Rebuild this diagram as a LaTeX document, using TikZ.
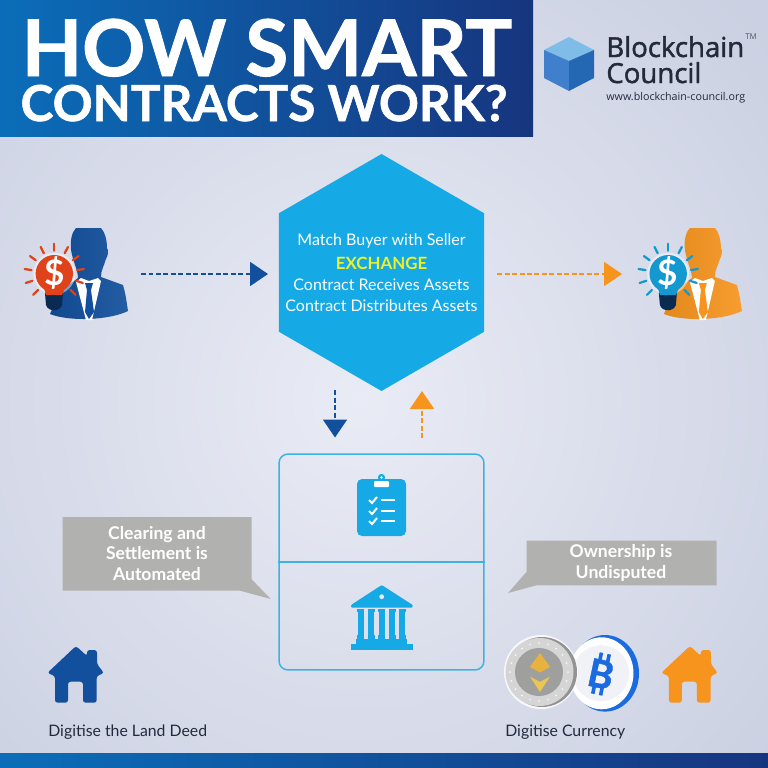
\documentclass[tikz,border=0pt]{standalone}
\usepackage{fontspec}
\setmainfont{Lato}
\newfontfamily\logofont[FakeBold=1.6]{Open Sans}
\newfontfamily\logosmall{Open Sans}
\newfontfamily\titlefont[BoldFeatures={FakeBold=1.2}]{Lato}
\usetikzlibrary{arrows.meta,shapes.geometric,calc}
\definecolor{bgin}{HTML}{E9ECF5}
\definecolor{bgout}{HTML}{CBD0E2}
\definecolor{hexblue}{HTML}{15A9E6}
\definecolor{boxblue}{HTML}{3DB2E2}
\definecolor{navy}{HTML}{124F9C}
\definecolor{headL}{HTML}{0B6DB9}
\definecolor{headR}{HTML}{17357F}
\definecolor{orangeC}{HTML}{F7941E}
\definecolor{redC}{HTML}{E0431A}
\definecolor{greyC}{HTML}{B1B2B0}
\definecolor{inkC}{HTML}{232A3C}
\definecolor{baseC}{HTML}{0B2A52}
\definecolor{yellowC}{HTML}{EEF02A}
\definecolor{cubeTop}{HTML}{7FBDE8}
\definecolor{cubeLeft}{HTML}{3F7FCC}
\definecolor{cubeRight}{HTML}{2468B4}
\definecolor{btcC}{HTML}{1A6AE0}
\definecolor{goldA}{HTML}{E7B23E}
\definecolor{goldB}{HTML}{EBC552}
\tikzset{
  x=0.02cm,y=-0.02cm,
  flow/.style={draw=#1,line width=0.04cm,dash pattern=on 0.1cm off 0.05cm,
    -{Triangle[length=0.36cm,width=0.48cm,fill=#1]}},
  hextext/.style={text=white,font=\fontsize{9.1}{12}\selectfont,anchor=center},
  callout/.style={fill=greyC,draw=none},
  calltext/.style={text=white,font=\bfseries\fontsize{10}{11.9}\selectfont,align=center},
  caption/.style={text=inkC,font=\fontsize{9}{11}\selectfont,anchor=base west,inner sep=0pt},
  person/.pic={
    \path[left color=#1!92!black,right color=#1!92!white]
      (76,228) -- (101,228) .. controls (105,232) and (107,240) .. (107,248)
      .. controls (109,250) and (108,256) .. (106,259)
      .. controls (104,266) and (101,270) .. (101,277)
      -- (123,285) .. controls (126,295) and (127,305) .. (128,311)
      .. controls (110,320) and (70,322) .. (50,314)
      -- (60,292) -- (78,278) .. controls (78,270) and (73,262) .. (71,250)
      .. controls (70,240) and (72,232) .. (76,228) -- cycle;
    \fill[white] (76,282) -- (81,278) -- (89,281) -- (98,278) -- (101,281) -- (92,320) -- (86,320) -- cycle;
    \fill[#1] (85,283) -- (93,283) -- (91,290) -- (94,312) -- (89,319) -- (85,312) -- (87,290) -- cycle;
  },
  bulb/.pic={
    \fill[white,opacity=.45] (54.3,273.7) circle[radius=21];
    \foreach \a in {90,117,144,171,198,225,63,36,9,-18,-45}{
      \draw[#1,line width=0.045cm,line cap=round] ($(54.3,273.7)+(\a:23 and -23)$) -- ($(54.3,273.7)+(\a:30 and -30)$);
    }
    \fill[baseC] (45,293) -- (63,293) -- (62,305) .. controls (60,312) and (48,312) .. (46,305) -- cycle;
    \fill[#1] (54.3,273.7) circle[radius=18.7];
    \fill[#1] (44,288) -- (65,288) -- (62,295) -- (46,295) -- cycle;
    \node[text=white,font=\bfseries\fontsize{20}{20}\selectfont,inner sep=0pt] at (54.3,272.5) {\$};
  },
  house/.pic={
    \fill[#1,rounded corners=1.5pt] (76,646) -- (87,656) -- (87,650) -- (97,650) -- (97,664) -- (104,673) -- (96.7,676) -- (96.7,702.7) -- (83,702.7) -- (83,681.7) -- (68,681.7) -- (68,702.7) -- (55,702.7) -- (55,676) -- (47.3,673) -- cycle;
  }
}
\begin{document}
\begin{tikzpicture}
\useasboundingbox (0,0) rectangle (768,768);
% background
\fill[bgout] (0,0) rectangle (768,768);
\shade[inner color=bgin,outer color=bgout] (-180,-160) rectangle (900,960);
% header
\shade[left color=headL,right color=headR] (0,0) rectangle (533,136);
\shade[left color=headL,right color=headR] (0,753) rectangle (768,768);
\node[text=white,font=\titlefont\bfseries\fontsize{44.5}{45}\selectfont,anchor=base,inner sep=0pt] (title1) at (267,76) {HOW SMART};
\node[text=white,font=\titlefont\bfseries\fontsize{28.2}{30}\selectfont,anchor=base,inner sep=0pt] (title2) at (264,121) {CONTRACTS WORK?};
% logo cube
\fill[cubeTop] (569,37) -- (594,50) -- (569,61) -- (544,50) -- cycle;
\fill[cubeLeft] (544,50) -- (569,61) -- (569,91) -- (544,78) -- cycle;
\fill[cubeRight] (594,50) -- (569,61) -- (569,91) -- (594,78) -- cycle;
\node[text=inkC,font=\logofont\fontsize{15.7}{16}\selectfont,anchor=base west,inner sep=0pt] (logo1) at (606,57) {Blockchain};
\node[text=inkC,font=\logofont\fontsize{15.7}{16}\selectfont,anchor=base west,inner sep=0pt] (logo2) at (606,83) {Council};
\node[text=inkC,font=\logosmall\fontsize{6.1}{7}\selectfont,anchor=base west,inner sep=0pt] (logo3) at (606,100) {www.blockchain-council.org};
\node[text=inkC!80,font=\logosmall\fontsize{4.5}{5}\selectfont,inner sep=0pt] (tm) at (751,37) {TM};
% people
\pic {person=navy};
\pic {bulb=redC};
\begin{scope}[xshift=12.28cm]
\pic {person=orangeC};
\pic {bulb=hexblue!90!black};
\end{scope}
% hexagon
\node[regular polygon,regular polygon sides=6,shape border rotate=30,minimum size=4.74cm,inner sep=0pt,fill=hexblue] (hex) at (381.5,272.5) {};
\node[hextext] (h1) at (381.5,241) {Match Buyer with Seller};
\node[hextext,text=yellowC,font=\bfseries\fontsize{9.6}{12}\selectfont] (h2) at (381.5,263) {EXCHANGE};
\node[hextext] (h3) at (381.5,285) {Contract Receives Assets};
\node[hextext] (h4) at (381.5,306) {Contract Distributes Assets};
% connectors
\coordinate (buyer) at (141,274);
\coordinate (hexL) at (268,274);
\coordinate (hexR) at (497,274);
\coordinate (seller) at (622,274);
\coordinate (hexD) at (335,390);
\coordinate (boxD) at (335,437.5);
\coordinate (boxU) at (422,438);
\coordinate (hexU) at (422,391);
\draw[flow=navy] (buyer) -- (hexL);
\draw[flow=orangeC] (hexR) -- (seller);
\draw[flow=navy] (hexD) -- (boxD);
\draw[flow=orangeC] (boxU) -- (hexU);
% box
\node[draw=boxblue,line width=0.03cm,rounded corners=0.18cm,minimum width=4.1cm,minimum height=4.32cm,inner sep=0pt] (box) at (381.5,562) {};
\draw[boxblue,line width=0.03cm] (box.west) -- (box.east);
% clipboard
\fill[hexblue,rounded corners=0.1cm] (357,479) rectangle (406,536);
\fill[hexblue] (381.5,477.5) circle[radius=3.6];
\fill[white,rounded corners=0.02cm] (374,481) rectangle (389,487);
\fill[white] (381.5,477.5) circle[radius=1.3];
\foreach \yy in {500,511,521}{
  \draw[white,line width=0.04cm] (369,\yy) -- (372,\yy+3) -- (377,\yy-3);
  \draw[white,line width=0.04cm] (381,\yy) -- (395,\yy);
}
% bank
\fill[hexblue,rounded corners=0.02cm] (381.7,585) -- (412.7,605) -- (412.7,607.5) -- (351,607.5) -- (351,605) -- cycle;
\fill[bgin] (381.7,596.7) circle[radius=2.4];
\foreach \xx in {360.7,371.3,381.7,392,402}{
  \fill[hexblue] (\xx-3.5,609) rectangle (\xx+3.5,612);
  \fill[hexblue] (\xx-2.9,612) rectangle (\xx+2.9,636);
  \fill[hexblue] (\xx-3.5,635) rectangle (\xx+3.5,639);
}
\fill[hexblue] (356,639) rectangle (407.3,644);
\fill[hexblue] (351,643.5) rectangle (412.7,649.5);
% callouts
\fill[callout] (62.7,517) -- (251.7,517) -- (251.7,579.3) -- (270.7,599) -- (240,590.7) -- (62.7,590.7) -- cycle;
\node[calltext] (c1) at (157,553.5) {Clearing and\\Settlement is\\Automated};
\fill[callout] (526.7,540.7) -- (716.7,540.7) -- (716.7,585.3) -- (536.7,585.3) -- (508,593) -- (526.7,571.7) -- cycle;
\node[calltext] (c2) at (621,563) {Ownership is\\Undisputed};
% houses
\pic {house=navy};
\begin{scope}[xshift=12.28cm]
\pic {house=orangeC};
\end{scope}
% bitcoin
\fill[btcC] (605,673.3) ellipse[x radius=34,y radius=38.3];
\fill[white] (601.5,673.3) ellipse[x radius=32,y radius=36];
\fill[bgin!70!white] (601,673.3) circle[radius=28];
\begin{scope}[shift={(601,674)},rotate=-12]
  \foreach \xx/\yy in {-4/-17,4/-17,-4/17,4/17}{
    \fill[btcC] (\xx-1.8,\yy-4) rectangle (\xx+1.8,\yy+4);
  }
  \node[text=btcC,font=\titlefont\bfseries\fontsize{22}{22}\selectfont,inner sep=0pt,rotate=-12] (btc) at (0,0) {B};
\end{scope}
% ether
\fill[white!85!bgout] (541,672) circle[radius=37];
\fill[gray!85!white] (542,672) circle[radius=35];
\fill[greyC!55!white] (539.5,672) circle[radius=34];
\fill[greyC!90!black] (539,672) circle[radius=24];
\foreach \a in {0,18,...,342}{
  \fill[white!90!greyC] ($(539,672)+(\a:29 and 29)$) circle[radius=1];
}
\fill[goldA] (540,653) -- (550,667) -- (540,672.5) -- (530,667) -- cycle;
\fill[goldB] (530,676.5) -- (540,682) -- (550,676.5) -- (540,692) -- cycle;
% captions
\node[caption] (d1) at (48,736) {Digitise the Land Deed};
\node[caption] (d2) at (505,736) {Digitise Currency};
\end{tikzpicture}
\end{document}
